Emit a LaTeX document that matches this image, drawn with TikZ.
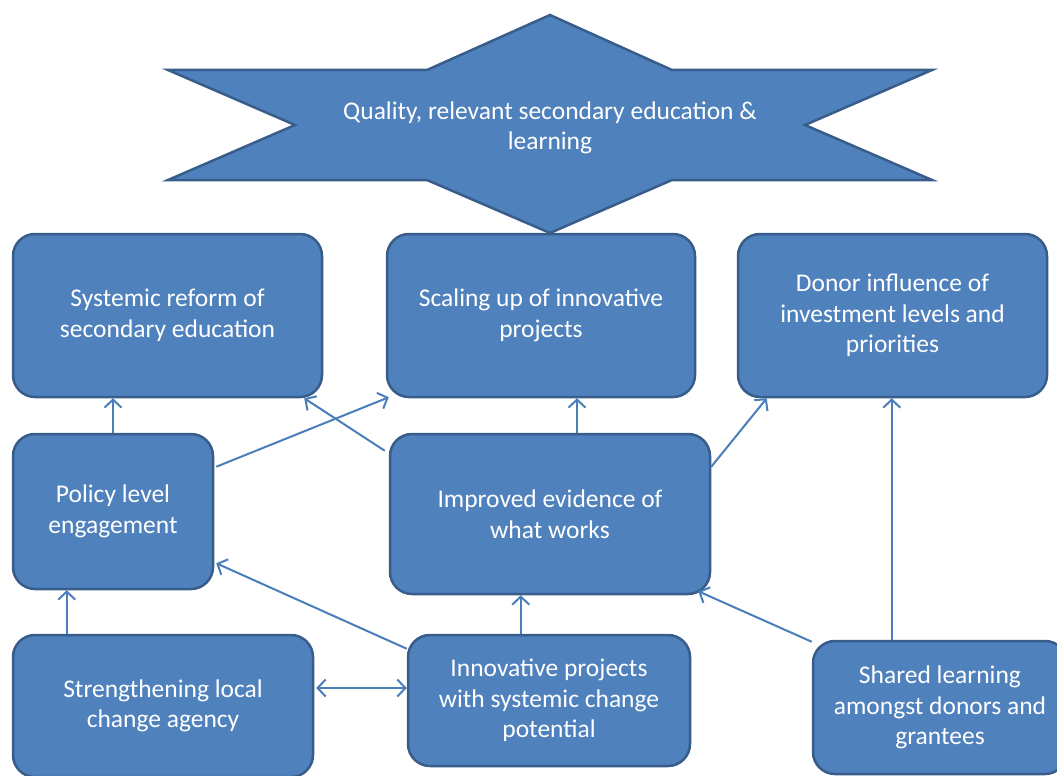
\documentclass[tikz,border=0pt]{standalone}
\usepackage{fontspec}
\setmainfont{Carlito}
\usetikzlibrary{calc,arrows.meta}
\definecolor{boxfill}{HTML}{4F81BD}
\definecolor{boxline}{HTML}{385D8A}
\definecolor{linkcol}{HTML}{4A7EBB}
\tikzset{
    box/.style={draw=boxline, fill=boxfill, line width=2.5pt, rounded corners=22pt,
        text=white, align=center, font=\fontsize{25.5}{30.5}\selectfont},
    link/.style={draw=linkcol, line width=2pt,
        -{Straight Barb[length=8pt,width=17pt,line width=2pt]}},
}

\begin{document}
\begin{tikzpicture}[x=1pt,y=-1pt]
            \useasboundingbox (0,0) rectangle (1057,776);

            \draw [boxline, fill=boxfill, line width=2.5pt, line join=miter]
                (550,15) -- (672,70) -- (932,70) -- (805,125) -- (932,180) -- (672,180)
                -- (550,233) -- (427,180) -- (168,180) -- (295,125) -- (168,70) -- (427,70) -- cycle;
            \node [text=white, align=center, font=\fontsize{25.5}{30.5}\selectfont] (goal) at (550,128)
                {Quality, relevant secondary education \&\\learning};

            \node [box, minimum width=309, minimum height=163] (reform) at (167.5,315.5)
                {Systemic reform of\\secondary education};
            \node [box, minimum width=308, minimum height=163] (scaling) at (541,315.5)
                {Scaling up of innovative\\projects};
            \node [box, minimum width=309, minimum height=163] (donor) at (892.5,315.5)
                {Donor influence of\\investment levels and\\priorities};
            \node [box, minimum width=200, minimum height=155] (policy) at (113,511.5)
                {Policy level\\engagement};
            \node [box, minimum width=320, minimum height=160] (evidence) at (550,514)
                {Improved evidence of\\what works};
            \node [box, minimum width=300, minimum height=142] (agency) at (163,706)
                {Strengthening local\\change agency};
            \node [box, minimum width=282, minimum height=131] (projects) at (549,700.5)
                {Innovative projects\\with systemic change\\potential};
            \node [box, minimum width=254, minimum height=133] (shared) at (940,707.5)
                {Shared learning\\amongst donors and\\grantees};

            \draw [link] (policy.north) -- (policy.north |- reform.south);
            \draw [link] ($(policy.north east)+(2,34)$) -- ($(scaling.south west)+(3,-1)$);
            \draw [link] ($(evidence.north west)+(-4,18)$) -- ($(reform.south east)+(-19,0)$);
            \draw [link] ($(evidence.north)+(27,0)$) coordinate (e1) -- (e1 |- scaling.south);
            \draw [link] ($(evidence.north east)+(0,34)$) -- ($(donor.south west)+(30,0)$);
            \draw [link] ($(agency.north west)+(55,0)$) coordinate (a1) -- (a1 |- policy.south);
            \draw [link] ($(projects.north west)+(0,15)$) -- ($(policy.south east)+(2,-27)$);
            \draw [link] ($(projects.north west)+(114,0)$) coordinate (p1) -- (p1 |- evidence.south);
            \draw [link] ($(shared.north west)+(0,2)$) -- ($(evidence.south east)+(-13,-4)$);
            \draw [link] ($(shared.north west)+(80,0)$) coordinate (s1) -- (s1 |- donor.south);
            \draw [link, {Straight Barb[length=8pt,width=17pt,line width=2pt]}-{Straight Barb[length=8pt,width=17pt,line width=2pt]}]
                ($(agency.east)+(2,-18)$) coordinate (a2) -- (a2 -| projects.west);
        \end{tikzpicture}
\end{document}
